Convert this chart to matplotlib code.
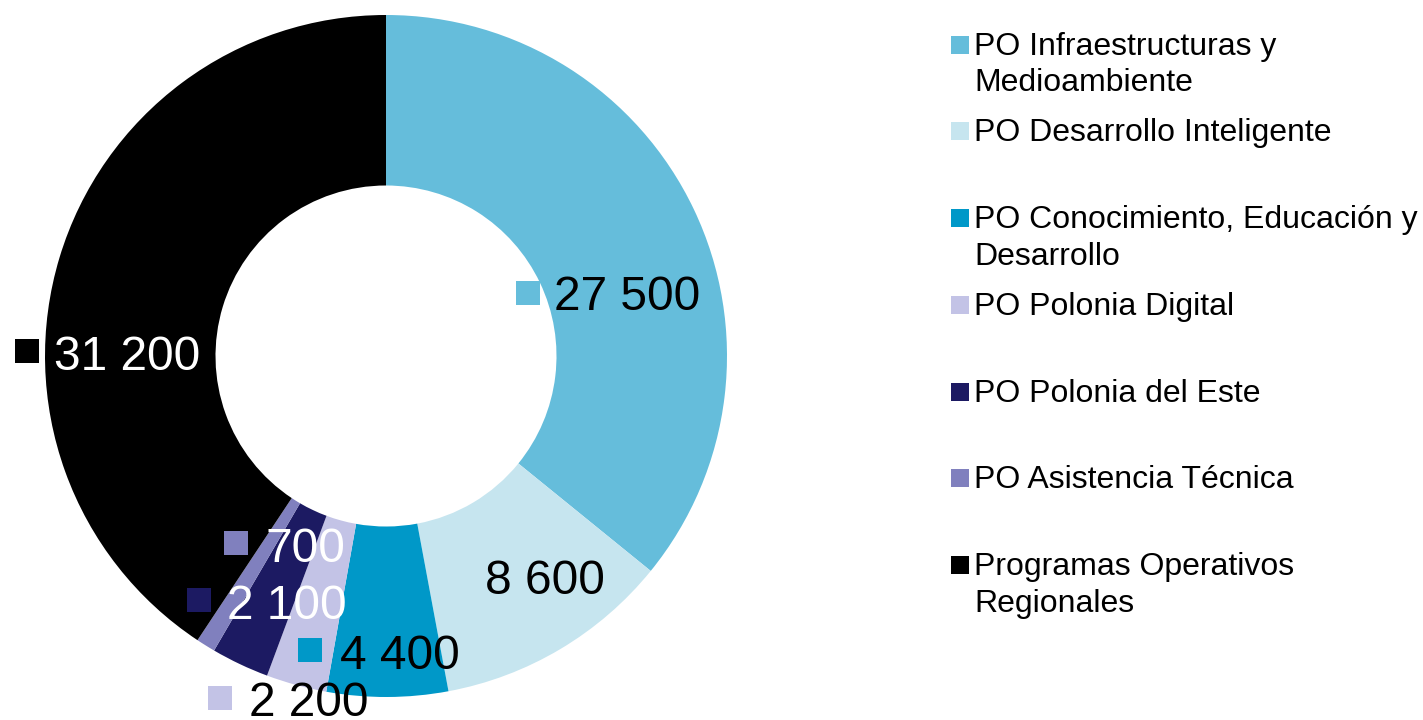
import matplotlib
matplotlib.use("Agg")
import matplotlib.pyplot as plt
from matplotlib.patches import Rectangle

plt.rcParams['font.family'] = ['Liberation Sans', 'DejaVu Sans']

categories = [
    "PO Infraestructuras y\nMedioambiente",
    "PO Desarrollo Inteligente",
    "PO Conocimiento, Educación y\nDesarrollo",
    "PO Polonia Digital",
    "PO Polonia del Este",
    "PO Asistencia Técnica",
    "Programas Operativos\nRegionales",
]
values = [27500, 8600, 4400, 2200, 2100, 700, 31200]
value_labels = ["27 500", "8 600", "4 400", "2 200", "2 100", "700", "31 200"]
colors = ["#65BDDB", "#C6E5EF", "#0098C8", "#C3C3E6", "#1C1A62", "#8080BE", "#000000"]

W, H = 1423, 720
fig = plt.figure(figsize=(W / 100, H / 100), dpi=100)


def fx(x):
    return x / W


def fy(y):
    return 1 - y / H


# donut: centre (386, 356) px, radius 341 px
cx, cy, R = 386, 356, 341
ax = fig.add_axes([fx(cx - R), fy(cy + R), 2 * R / W, 2 * R / H])
ax.pie(values, colors=colors, startangle=90, counterclock=False, radius=1,
       wedgeprops=dict(width=0.5, edgecolor='none', linewidth=0))
ax.set_xlim(-1, 1)
ax.set_ylim(-1, 1)
ax.set_aspect('equal')
ax.axis('off')

# data labels: (text left x, baseline y, square (x, y) or None, text colour)
label_layout = [
    (554, 310, (516, 281), 'black'),
    (485, 594, None, 'black'),
    (340, 669, (298, 638), 'black'),
    (249, 716, (208, 686), 'black'),
    (227, 619, (187, 588), 'white'),
    (265, 562, (224, 531), 'white'),
    (54, 370, (15, 339), 'white'),
]
sq = 24
for (tx, ty, sqp, tc), lab, col in zip(label_layout, value_labels, colors):
    fig.text(fx(tx), fy(ty), lab, fontsize=34.5, color=tc, ha='left', va='baseline', zorder=5)
    if sqp is not None:
        fig.add_artist(Rectangle((fx(sqp[0]), fy(sqp[1] + sq)), sq / W, sq / H,
                                 transform=fig.transFigure, facecolor=col,
                                 edgecolor='none', zorder=4))

# legend: baselines of each line
legend_baselines = [[55, 91], [141], [228, 265], [315], [402], [488], [575, 612]]
lsq = 18
for cat, col, bls in zip(categories, colors, legend_baselines):
    lines = cat.split("\n")
    for line, bl in zip(lines, bls):
        fig.text(fx(974), fy(bl), line, fontsize=23, color='black', ha='left', va='baseline')
    b0 = bls[0]
    fig.add_artist(Rectangle((fx(951), fy(b0 - 1)), lsq / W, lsq / H,
                             transform=fig.transFigure, facecolor=col, edgecolor='none'))

fig.savefig("out.png", dpi=100)
